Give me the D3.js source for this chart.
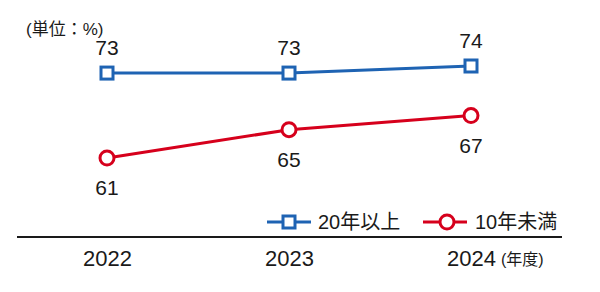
<!DOCTYPE html>
<html>
<head>
<meta charset="utf-8">
<script src="https://cdn.jsdelivr.net/npm/d3@7"></script>
<style>
  body { margin: 0; background: #fff; }
  text { font-family: "Liberation Sans", Arial, "Noto Sans CJK JP", sans-serif; fill: #1a1a1a; }
  .cjk { font-family: "Liberation Sans", "Noto Sans CJK JP", sans-serif; }
</style>
</head>
<body>
<div id="wrapper"></div>
<script>
'use strict';

// data
const years = ['2022', '2023', '2024'];
const seriesNames = ['20年以上', '10年未満'];
const over20 = [73, 73, 74];
const under10 = [61, 65, 67];

function drawChart () {
  const width = 600;
  const height = 292;
  const blue = '#1e63b3';
  const red = '#d6001c';

  const svg = d3.select('#wrapper')
    .append('svg')
    .attr('width', width)
    .attr('height', height);

  // scales
  const xScale = d3.scalePoint()
    .domain(years)
    .range([107, 471]);

  const yScale = d3.scaleLinear()
    .domain([61, 74])
    .range([158, 66]);

  const baselineY = 237;

  // baseline + x labels
  svg.append('line')
    .attr('x1', 17)
    .attr('x2', 562)
    .attr('y1', baselineY)
    .attr('y2', baselineY)
    .attr('stroke', '#1a1a1a')
    .attr('stroke-width', 2);

  const xAxis = svg.append('g')
    .attr('transform', `translate(0, ${baselineY})`)
    .call(d3.axisBottom(xScale).tickSize(0).tickPadding(13));
  xAxis.select('.domain').remove();
  xAxis.selectAll('text')
    .attr('font-size', 22)
    .attr('fill', '#1a1a1a')
    .style('font-family', '"Liberation Sans", Arial, sans-serif');

  svg.append('text')
    .attr('class', 'cjk')
    .attr('x', 501)
    .attr('y', 265)
    .attr('font-size', 16)
    .text('(年度)');

  // unit label
  svg.append('text')
    .attr('class', 'cjk')
    .attr('x', 26)
    .attr('y', 35)
    .attr('font-size', 17)
    .text('(単位：%)');

  const lineGenerator = d3.line()
    .x((d, i) => xScale(years[i]))
    .y(d => yScale(d));

  // blue series
  svg.append('path')
    .attr('d', lineGenerator(over20))
    .attr('fill', 'none')
    .attr('stroke', blue)
    .attr('stroke-width', 3);

  svg.selectAll('.sq')
    .data(over20)
    .join('rect')
    .attr('x', (d, i) => xScale(years[i]) - 6)
    .attr('y', d => yScale(d) - 6)
    .attr('width', 12)
    .attr('height', 12)
    .attr('fill', '#fff')
    .attr('stroke', blue)
    .attr('stroke-width', 3);

  svg.selectAll('.lblBlue')
    .data(over20)
    .join('text')
    .attr('x', (d, i) => xScale(years[i]))
    .attr('y', d => yScale(d) - 18)
    .attr('text-anchor', 'middle')
    .attr('font-size', 21)
    .text(d => d);

  // red series
  svg.append('path')
    .attr('d', lineGenerator(under10))
    .attr('fill', 'none')
    .attr('stroke', red)
    .attr('stroke-width', 3);

  svg.selectAll('.circ')
    .data(under10)
    .join('circle')
    .attr('cx', (d, i) => xScale(years[i]))
    .attr('cy', d => yScale(d))
    .attr('r', 7)
    .attr('fill', '#fff')
    .attr('stroke', red)
    .attr('stroke-width', 3);

  svg.selectAll('.lblRed')
    .data(under10)
    .join('text')
    .attr('x', (d, i) => xScale(years[i]))
    .attr('y', d => yScale(d) + 37)
    .attr('text-anchor', 'middle')
    .attr('font-size', 21)
    .text(d => d);

  // legend
  const legendY = 222;
  const legend = svg.append('g');

  legend.append('line')
    .attr('x1', 267).attr('x2', 311)
    .attr('y1', legendY).attr('y2', legendY)
    .attr('stroke', blue).attr('stroke-width', 3);
  legend.append('rect')
    .attr('x', 283).attr('y', legendY - 6)
    .attr('width', 12).attr('height', 12)
    .attr('fill', '#fff').attr('stroke', blue).attr('stroke-width', 3);
  legend.append('text')
    .attr('class', 'cjk')
    .attr('x', 318).attr('y', legendY + 7)
    .attr('font-size', 20)
    .text(seriesNames[0]);

  legend.append('line')
    .attr('x1', 423).attr('x2', 467)
    .attr('y1', legendY).attr('y2', legendY)
    .attr('stroke', red).attr('stroke-width', 3);
  legend.append('circle')
    .attr('cx', 447).attr('cy', legendY).attr('r', 7)
    .attr('fill', '#fff').attr('stroke', red).attr('stroke-width', 3);
  legend.append('text')
    .attr('class', 'cjk')
    .attr('x', 475).attr('y', legendY + 7)
    .attr('font-size', 20)
    .text(seriesNames[1]);
}

drawChart();
</script>
</body>
</html>
